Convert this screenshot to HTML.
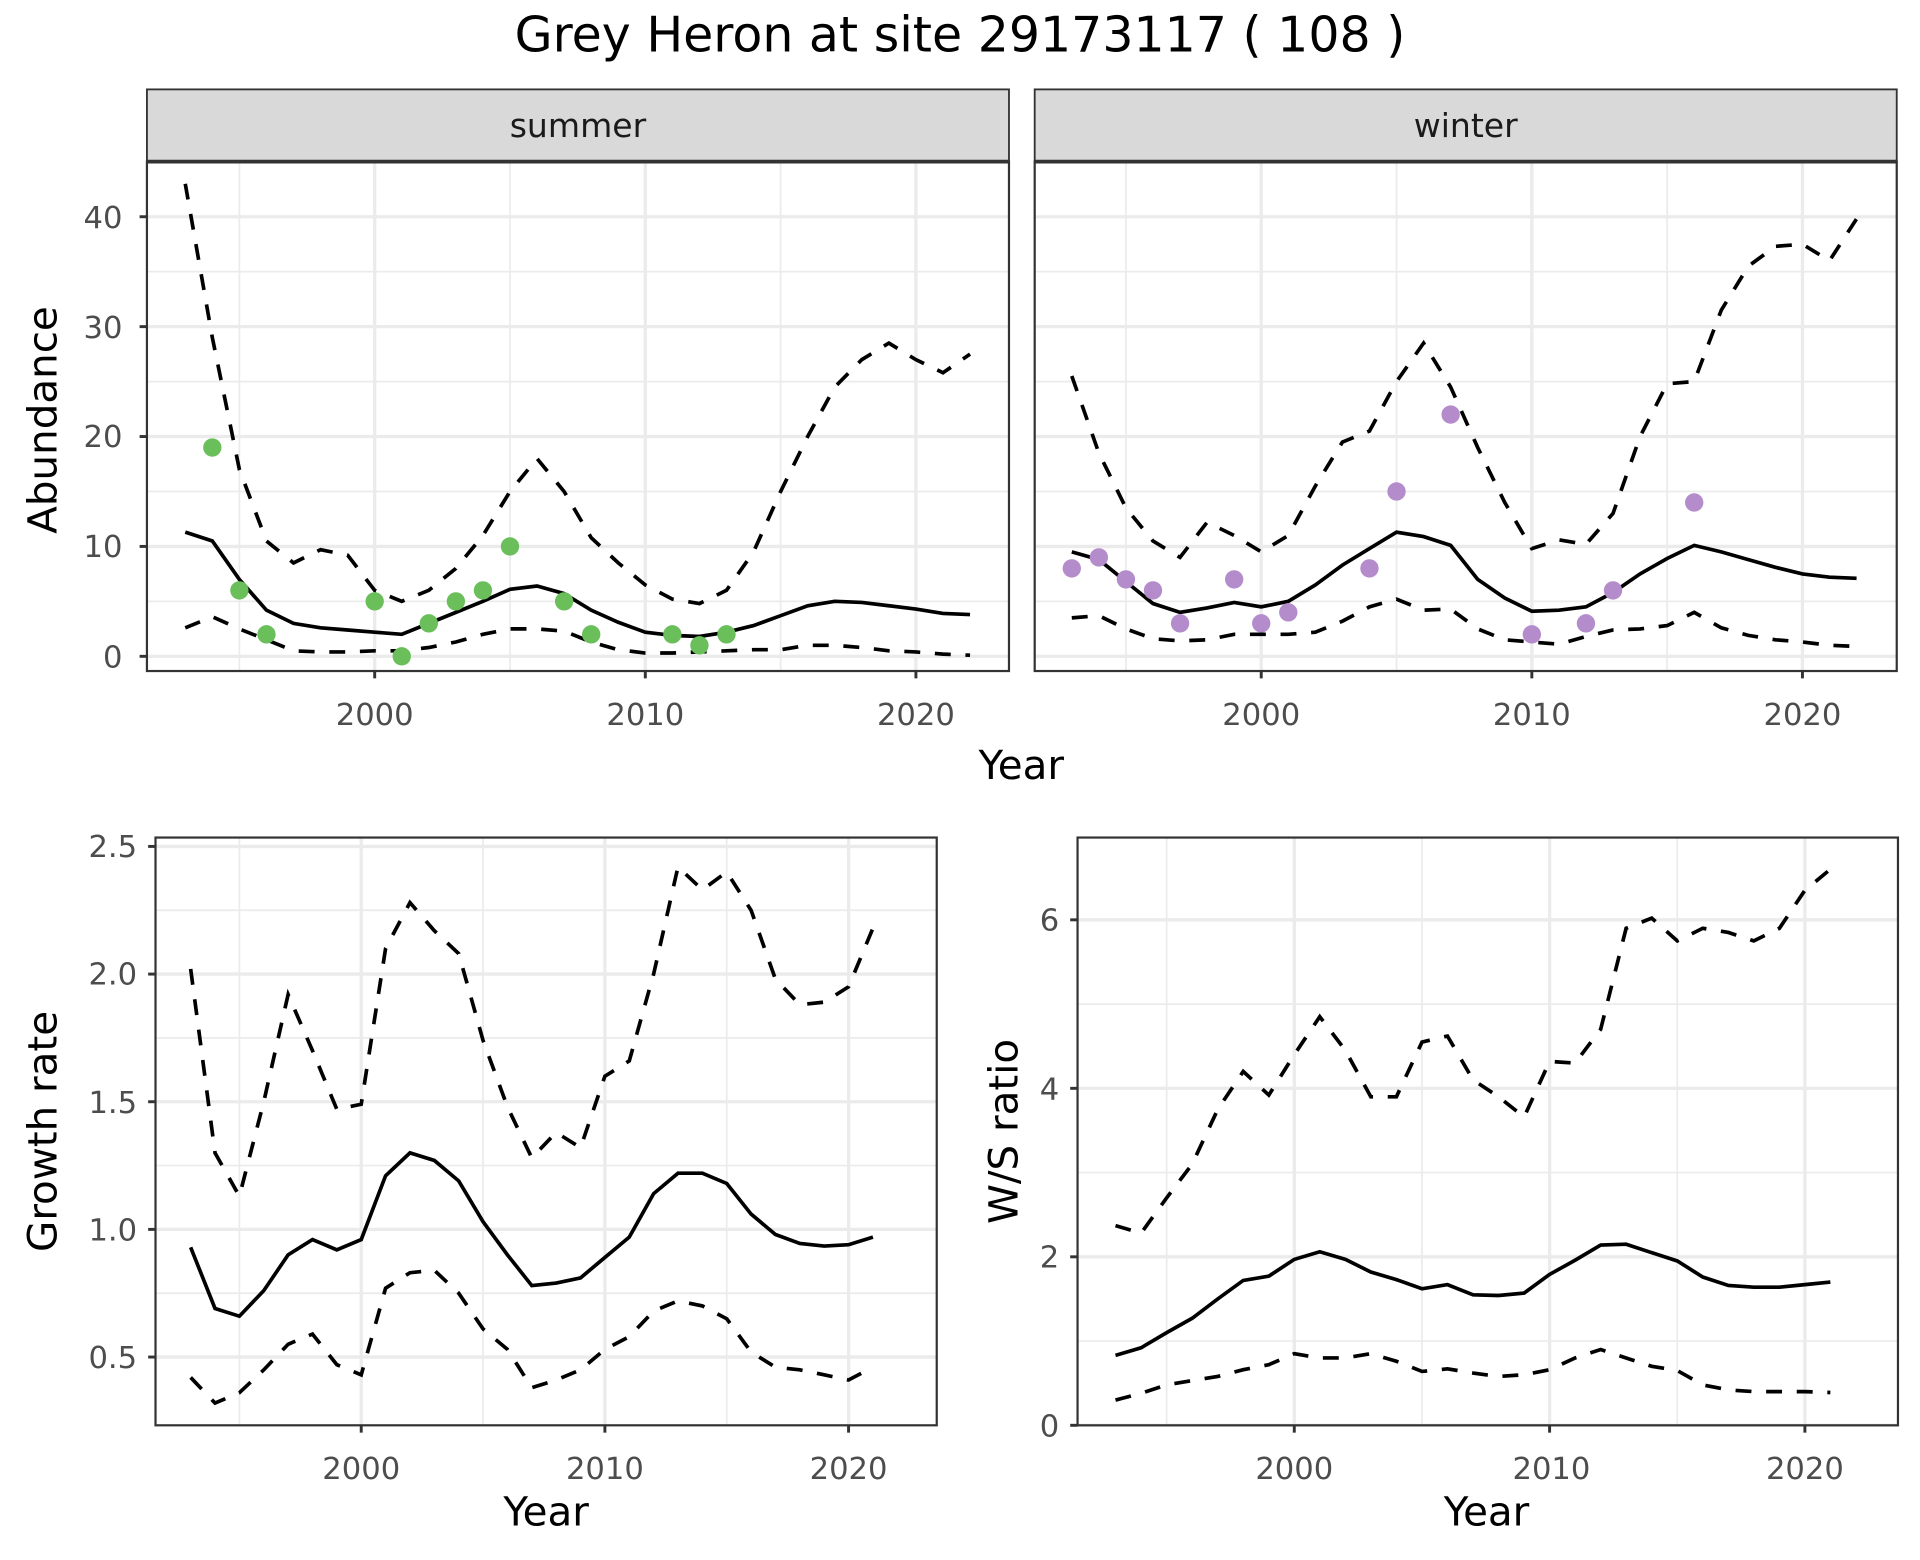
<!DOCTYPE html>
<html><head><meta charset="utf-8"><style>
html,body{margin:0;padding:0;background:#fff;}
svg{display:block;}
text{font-family:"DejaVu Sans","Liberation Sans",sans-serif;}
.tk{fill:#4d4d4d;font-size:25px;}
.at{fill:#000;font-size:33px;}
</style></head><body>
<svg id="s" width="1920" height="1560" viewBox="0 0 1568 1274" preserveAspectRatio="none" xmlns="http://www.w3.org/2000/svg">
<rect width="1568" height="1274" fill="#fff"/>
<text x="784" y="42" text-anchor="middle" font-size="40">Grey Heron at site 29173117 ( 108 )</text>
<g id="g"></g>
<rect x="120" y="73" width="704" height="59" fill="#d9d9d9" stroke="#333" stroke-width="1.5"/>
<rect x="845" y="73" width="704" height="59" fill="#d9d9d9" stroke="#333" stroke-width="1.5"/>
<line x1="120" x2="824" y1="132" y2="132" stroke="#333" stroke-width="3"/>
<line x1="845" x2="1549" y1="132" y2="132" stroke="#333" stroke-width="3"/>
<text x="472" y="112" text-anchor="middle" font-size="27" fill="#1a1a1a">summer</text>
<text x="1197" y="112" text-anchor="middle" font-size="27" fill="#1a1a1a">winter</text>
<text class="tk" x="100" y="545" text-anchor="end">0</text>
<text class="tk" x="100" y="455" text-anchor="end">10</text>
<text class="tk" x="100" y="365" text-anchor="end">20</text>
<text class="tk" x="100" y="276" text-anchor="end">30</text>
<text class="tk" x="100" y="186" text-anchor="end">40</text>
<text class="tk" x="306" y="592" text-anchor="middle">2000</text>
<text class="tk" x="527" y="592" text-anchor="middle">2010</text>
<text class="tk" x="748" y="592" text-anchor="middle">2020</text>
<text class="tk" x="1030" y="592" text-anchor="middle">2000</text>
<text class="tk" x="1251" y="592" text-anchor="middle">2010</text>
<text class="tk" x="1472" y="592" text-anchor="middle">2020</text>
<text class="at" x="834" y="636" text-anchor="middle">Year</text>
<text class="at" transform="translate(46,343) rotate(-90)" text-anchor="middle">Abundance</text>
<text class="tk" x="112" y="700" text-anchor="end">2.5</text>
<text class="tk" x="112" y="804" text-anchor="end">2.0</text>
<text class="tk" x="112" y="909" text-anchor="end">1.5</text>
<text class="tk" x="112" y="1013" text-anchor="end">1.0</text>
<text class="tk" x="112" y="1117" text-anchor="end">0.5</text>
<text class="tk" x="295" y="1208" text-anchor="middle">2000</text>
<text class="tk" x="494" y="1208" text-anchor="middle">2010</text>
<text class="tk" x="693" y="1208" text-anchor="middle">2020</text>
<text class="at" x="446" y="1246" text-anchor="middle">Year</text>
<text class="at" transform="translate(46,924) rotate(-90)" text-anchor="middle">Growth rate</text>
<text class="tk" x="865" y="1173" text-anchor="end">0</text>
<text class="tk" x="865" y="1035" text-anchor="end">2</text>
<text class="tk" x="865" y="898" text-anchor="end">4</text>
<text class="tk" x="865" y="760" text-anchor="end">6</text>
<text class="tk" x="1057" y="1208" text-anchor="middle">2000</text>
<text class="tk" x="1267" y="1208" text-anchor="middle">2010</text>
<text class="tk" x="1474" y="1208" text-anchor="middle">2020</text>
<text class="at" x="1214" y="1246" text-anchor="middle">Year</text>
<text class="at" transform="translate(831,924) rotate(-90)" text-anchor="middle">W/S ratio</text>
</svg>
<script>
var NS="http://www.w3.org/2000/svg",G=document.getElementById('g');
function el(t,a){var e=document.createElementNS(NS,t);for(var k in a)e.setAttribute(k,a[k]);G.appendChild(e);return e;}
function panel(p){
 el('rect',{x:p.x0,y:p.y0,width:p.x1-p.x0,height:p.y1-p.y0,fill:'#fff'});
 var X=function(y){return p.xa+(y-2000)*p.xs},Y=function(v){return p.ya-(v-p.yb)*p.ys};
 p.minx.forEach(function(v){el('line',{x1:X(v),x2:X(v),y1:p.y0,y2:p.y1,stroke:'#ebebeb','stroke-width':1.4});});
 p.miny.forEach(function(v){el('line',{x1:p.x0,x2:p.x1,y1:Y(v),y2:Y(v),stroke:'#ebebeb','stroke-width':1.4});});
 [2000,2010,2020].forEach(function(v){el('line',{x1:X(v),x2:X(v),y1:p.y0,y2:p.y1,stroke:'#ebebeb','stroke-width':2.7});});
 p.majy.forEach(function(v){el('line',{x1:p.x0,x2:p.x1,y1:Y(v),y2:Y(v),stroke:'#ebebeb','stroke-width':2.7});});
 function line(d,dash){var pts=d.map(function(v,i){return X(p.start+i).toFixed(1)+','+Y(v).toFixed(1)}).join(' ');
  var a={points:pts,fill:'none',stroke:'#000','stroke-width':3};if(dash)a['stroke-dasharray']='13,12';el('polyline',a);}
 line(p.hi,1);line(p.lo,1);line(p.m,0);
 if(p.pts)for(var i=0;i<p.pts.length;i+=2)el('circle',{cx:X(p.pts[i]),cy:Y(p.pts[i+1]),r:7.5,fill:p.col});
 el('rect',{x:p.x0,y:p.y0,width:p.x1-p.x0,height:p.y1-p.y0,fill:'none',stroke:'#333','stroke-width':1.8});
 if(p.ticks){p.majy.forEach(function(v){el('line',{x1:p.x0-6,x2:p.x0,y1:Y(v),y2:Y(v),stroke:'#333','stroke-width':2.4});});}
 [2000,2010,2020].forEach(function(v){el('line',{x1:X(v),x2:X(v),y1:p.y1,y2:p.y1+6,stroke:'#333','stroke-width':2.4});});
}
var ty={x0:0,x1:0,y0:132,y1:548,ya:536,yb:0,ys:8.975,start:1993,minx:[1995,2005,2015],miny:[5,15,25,35],majy:[0,10,20,30,40]};
function ext(o,b){var r={};for(var k in o)r[k]=o[k];for(k in b)r[k]=b[k];return r;}
panel(ext(ty,{x0:120,x1:824,xa:306,xs:22.1,ticks:1,col:'#6abf5b',
 m:[11.3,10.5,7,4.2,3,2.6,2.4,2.2,2.0,3,4,5,6.1,6.4,5.7,4.2,3.1,2.2,1.9,1.8,2.2,2.8,3.7,4.6,5.0,4.9,4.6,4.3,3.9,3.8],
 hi:[43,29,17,10.5,8.5,9.7,9.2,6,5,6,8,11,15,18,15,10.8,8.5,6.5,5.2,4.8,6,9.5,15,20,24.5,27,28.5,27,25.8,27.5],
 lo:[2.6,3.6,2.5,1.5,0.5,0.4,0.4,0.5,0.5,0.8,1.3,2,2.5,2.5,2.3,1.3,0.6,0.3,0.3,0.4,0.5,0.6,0.6,1,1,0.8,0.5,0.4,0.2,0.1],
 pts:[1994,19,1995,6,1996,2,2000,5,2001,0,2002,3,2003,5,2004,6,2005,10,2007,5,2008,2,2011,2,2012,1,2013,2]}));
panel(ext(ty,{x0:845,x1:1549,xa:1030,xs:22.1,col:'#b48ccb',
 m:[9.5,8.8,6.8,4.8,4.0,4.4,4.9,4.5,5.0,6.5,8.3,9.8,11.3,10.9,10.1,7.0,5.3,4.1,4.2,4.5,5.8,7.5,8.9,10.1,9.5,8.8,8.1,7.5,7.2,7.1],
 hi:[25.5,18.5,13.5,10.5,9,12.2,11,9.5,11,15.5,19.5,20.5,25,28.5,24.5,19,14,9.8,10.6,10.2,13,20,24.8,25,31.5,35.5,37.3,37.5,36,39.8],
 lo:[3.5,3.7,2.5,1.6,1.4,1.5,2,2,2,2.2,3.2,4.5,5.2,4.2,4.3,2.5,1.5,1.3,1.1,1.8,2.4,2.5,2.8,4,2.6,1.9,1.5,1.3,1,0.9],
 pts:[1993,8,1994,9,1995,7,1996,6,1997,3,1999,7,2000,3,2001,4,2004,8,2005,15,2007,22,2010,2,2012,3,2013,6,2016,14]}));
panel({x0:127,x1:765,y0:684,y1:1164,xa:295,xs:19.9,ya:1004,yb:1,ys:208.5,start:1993,ticks:1,
 minx:[1995,2005,2015],miny:[0.75,1.25,1.75,2.25],majy:[0.5,1,1.5,2,2.5],
 m:[.93,.69,.66,.76,.90,.96,.92,.96,1.21,1.30,1.27,1.19,1.03,.90,.78,.79,.81,.89,.97,1.14,1.22,1.22,1.18,1.06,.98,.945,.935,.94,.97],
 hi:[2.02,1.30,1.13,1.50,1.92,1.70,1.47,1.49,2.10,2.28,2.17,2.08,1.74,1.48,1.28,1.38,1.32,1.60,1.66,2.00,2.42,2.33,2.40,2.25,1.98,1.88,1.89,1.95,2.18],
 lo:[.42,.32,.36,.45,.55,.59,.47,.43,.77,.83,.84,.75,.61,.53,.38,.41,.45,.53,.58,.68,.72,.70,.65,.52,.46,.45,.43,.41,.46]});
panel({x0:880,x1:1550,y0:684,y1:1164,xa:1057,xs:20.85,ya:1164,yb:0,ys:68.8,start:1993,ticks:1,
 minx:[1995,2005,2015],miny:[1,3,5],majy:[0,2,4,6],
 m:[.83,.92,1.1,1.27,1.5,1.72,1.77,1.97,2.06,1.97,1.82,1.73,1.62,1.67,1.55,1.54,1.57,1.79,1.96,2.14,2.15,2.05,1.95,1.76,1.66,1.64,1.64,1.67,1.7],
 hi:[2.37,2.28,2.7,3.1,3.75,4.2,3.92,4.4,4.85,4.45,3.9,3.9,4.55,4.62,4.1,3.9,3.66,4.32,4.3,4.7,5.9,6.02,5.75,5.9,5.85,5.75,5.9,6.35,6.6],
 lo:[.3,.38,.48,.53,.58,.66,.72,.85,.8,.8,.85,.76,.64,.67,.62,.58,.6,.66,.8,.9,.8,.7,.65,.48,.42,.4,.4,.4,.39]});
</script>
</body></html>
